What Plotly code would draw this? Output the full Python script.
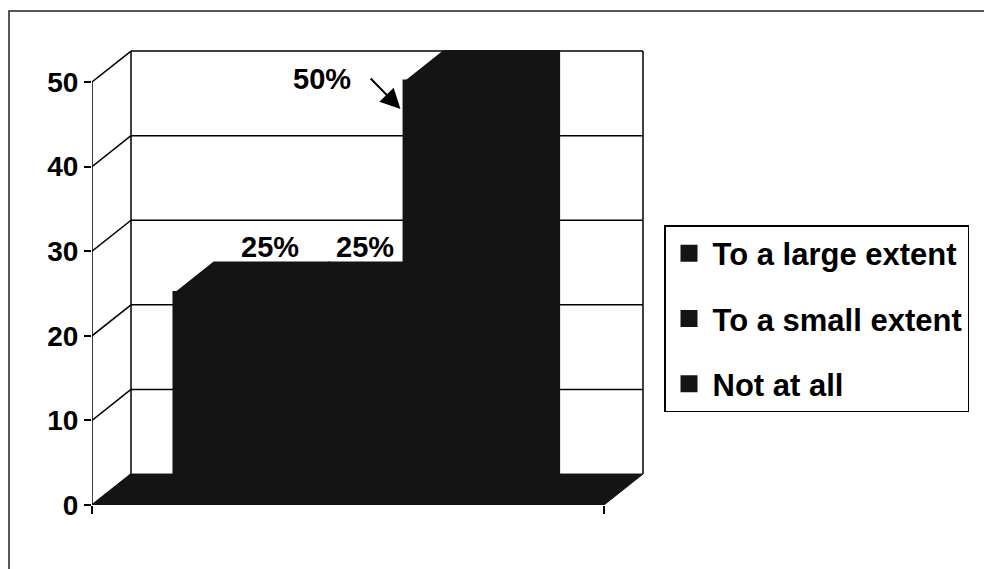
import plotly.graph_objects as go

# ---------------- data ----------------
categories = ["To a large extent", "To a small extent", "Not at all"]
values = [25, 25, 50]
value_labels = ["25%", "25%", "50%"]
y_ticks = [0, 10, 20, 30, 40, 50]

# ---------------- style / layout constants ----------------
W, H = 984, 569
ML, MR, MT, MB = 92, 339, 47, 64
DX, DY = 0.0762, 3.66          # pseudo-3D depth offset (x units, y units)
BAR_W = 0.2247
GROUP_C = 0.4991
X_MAX = 1.0801
Y_MAX = 54.14
INK = "#141414"
FONT = "Liberation Sans, Arial, sans-serif"
LABEL_OFF = [(0.074, 5.5), (0.034, 5.5), (-0.275, 0.3)]   # label offset from (bar centre, value)
ARROW_TAIL = (-0.07, 0.6)      # relative to left-top corner of the arrowed bar
ARROW_TIP = (-0.009, -3.2)
ARROW_BAR = 2

PW = W - ML - MR
PH = H - MT - MB


def px_to_paper_x(px):
    return (px - ML) / PW


def px_to_paper_y(py):
    return 1 - (py - MT) / PH


fig = go.Figure()

n = len(values)
centers = [GROUP_C + (i - (n - 1) / 2) * BAR_W for i in range(n)]
top_tick = y_ticks[-1]

# ----- walls, grid, axes (shapes below traces) -----
shapes = []
grid_line = dict(color="black", width=1.5)
for v in y_ticks[1:]:
    shapes.append(dict(type="line", xref="x", yref="y", x0=DX, x1=1 + DX,
                       y0=v + DY, y1=v + DY, line=grid_line, layer="below"))
# back wall side edges
shapes.append(dict(type="line", xref="x", yref="y", x0=DX, x1=DX,
                   y0=DY, y1=top_tick + DY, line=grid_line, layer="below"))
shapes.append(dict(type="line", xref="x", yref="y", x0=1 + DX, x1=1 + DX,
                   y0=DY, y1=top_tick + DY, line=grid_line, layer="below"))
# diagonals from the front axis to the back wall
for v in y_ticks:
    shapes.append(dict(type="line", xref="x", yref="y", x0=0, x1=DX,
                       y0=v, y1=v + DY, line=grid_line, layer="below"))
# front value axis line
shapes.append(dict(type="line", xref="x", yref="y", x0=0, x1=0,
                   y0=0, y1=top_tick, line=dict(color="black", width=1.5), layer="above"))
# outer chart frame
shapes.append(dict(type="rect", xref="paper", yref="paper",
                   x0=px_to_paper_x(9), x1=px_to_paper_x(W + 10),
                   y0=px_to_paper_y(H + 10), y1=px_to_paper_y(11),
                   line=dict(color="#222", width=1.5), layer="above"))

# ----- bars (front faces) -----
for i, (cat, val) in enumerate(zip(categories, values)):
    fig.add_trace(go.Bar(
        x=[centers[i]], y=[val], width=BAR_W, name=cat,
        marker=dict(color=INK, line=dict(color=INK, width=5)),
        legendgroup=cat, showlegend=True, hoverinfo="skip",
    ))

# ----- floor -----
fig.add_trace(go.Scatter(
    x=[0, DX, 1 + DX, 1, 0], y=[0, DY, DY, 0, 0],
    mode="lines", fill="toself", fillcolor=INK, line=dict(color=INK, width=1),
    showlegend=False, hoverinfo="skip",
))

# ----- bar tops and sides -----
for i, val in enumerate(values):
    xl = centers[i] - BAR_W / 2
    xr = centers[i] + BAR_W / 2
    fig.add_trace(go.Scatter(
        x=[xl, xl + DX, xr + DX, xr + DX, xr, xr, xl],
        y=[val, val + DY, val + DY, DY, 0, val, val],
        mode="lines", fill="toself", fillcolor=INK, line=dict(color=INK, width=2),
        showlegend=False, hoverinfo="skip",
    ))

# ----- data labels -----
annotations = []
lab_font = dict(family=FONT, size=29, color="black", weight="bold")
for i, (val, lab) in enumerate(zip(values, value_labels)):
    ox, oy = LABEL_OFF[i]
    annotations.append(dict(x=centers[i] + ox, y=val + oy, xref="x", yref="y",
                            text=lab, showarrow=False, font=lab_font))
xl_a = centers[ARROW_BAR] - BAR_W / 2
va = values[ARROW_BAR]
annotations.append(dict(
    x=xl_a + ARROW_TIP[0], y=va + ARROW_TIP[1], xref="x", yref="y",
    ax=xl_a + ARROW_TAIL[0], ay=va + ARROW_TAIL[1], axref="x", ayref="y",
    text="", showarrow=True, arrowhead=2, arrowsize=2, arrowwidth=2,
    arrowcolor="black",
))

fig.update_layout(
    width=W, height=H,
    margin=dict(l=ML, r=MR, t=MT, b=MB, pad=0),
    paper_bgcolor="white", plot_bgcolor="white",
    barmode="overlay",
    font=dict(family=FONT, color="black"),
    xaxis=dict(range=[0, X_MAX], tickvals=[0, 1], ticks="outside", ticklen=8,
               tickwidth=1.5, tickcolor="black", showticklabels=False,
               showgrid=False, zeroline=False, showline=False, fixedrange=True),
    yaxis=dict(range=[0, Y_MAX], tickvals=y_ticks, ticks="outside", ticklen=7,
               tickwidth=1.5, tickcolor="black", showgrid=False, zeroline=False,
               showline=False, fixedrange=True,
               tickfont=dict(family=FONT, size=28, color="black", weight="bold")),
    legend=dict(x=px_to_paper_x(664), y=px_to_paper_y(225), xanchor="left", yanchor="top",
                bgcolor="white", bordercolor="black", borderwidth=1.5,
                font=dict(family=FONT, size=31, color="black", weight="bold"),
                tracegroupgap=22, traceorder="grouped", itemwidth=37),
    shapes=shapes,
    annotations=annotations,
    showlegend=True,
)

fig.write_html("out.html", config={"displayModeBar": False},
               post_script="document.body.style.margin='0';document.body.style.overflow='hidden';")
